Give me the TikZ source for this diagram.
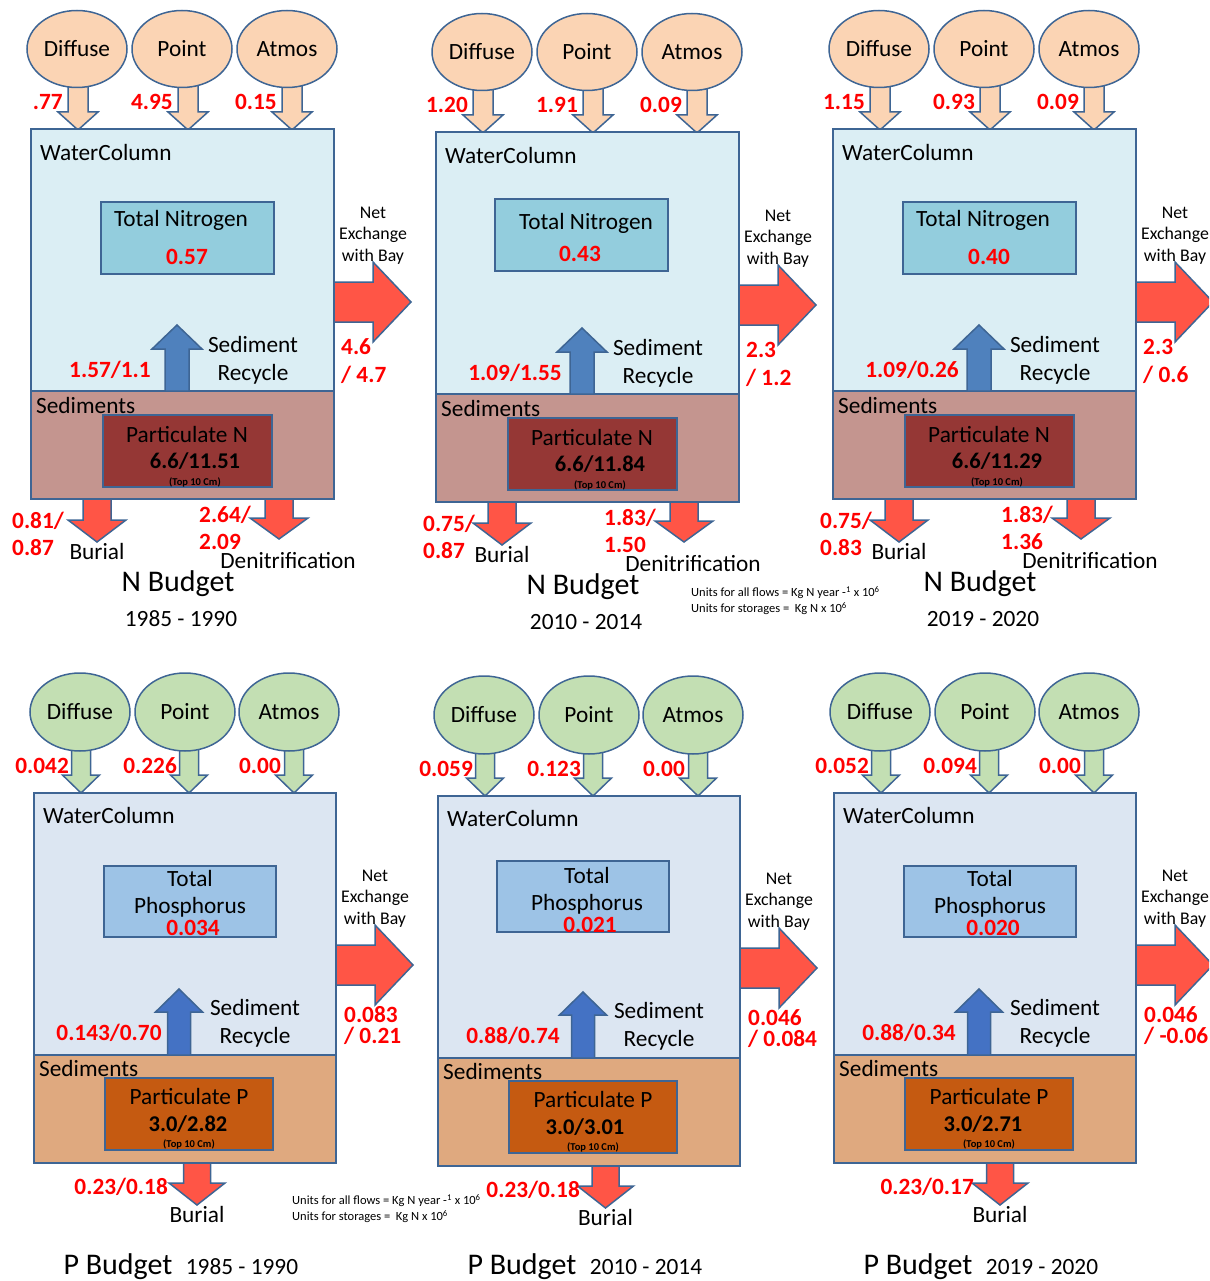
\documentclass[tikz,border=0pt]{standalone}
\usepackage{fontspec}
\setmainfont{Carlito}
\usetikzlibrary{shapes.geometric}
\definecolor{bord}{HTML}{3E6594}
\definecolor{peach}{HTML}{FBD4B4}
\definecolor{lgreen}{HTML}{C3DFB3}
\definecolor{redarrow}{HTML}{FF5546}
\definecolor{wcNc}{HTML}{DBEEF4}
\definecolor{wcPc}{HTML}{DCE6F2}
\definecolor{tnc}{HTML}{93CDDD}
\definecolor{tpc}{HTML}{9DC3E6}
\definecolor{sedNc}{HTML}{C4958F}
\definecolor{partNc}{HTML}{953735}
\definecolor{sedPc}{HTML}{DFA97F}
\definecolor{partPc}{HTML}{C55A11}
\definecolor{recNc}{HTML}{4F81BD}
\definecolor{recPc}{HTML}{4472C4}
\tikzset{
  bx/.style={draw=bord, line width=1.8pt, rectangle, inner sep=0},
  arr/.style={draw=bord, line width=1.5pt, line join=miter},
  inN/.style={arr, fill=peach},
  inP/.style={arr, fill=lgreen},
  redA/.style={arr, fill=redarrow},
  recN/.style={arr, fill=recNc},
  recP/.style={arr, fill=recPc},
  srcN/.style={ellipse, draw=bord, line width=1.5pt, fill=peach, minimum width=100, minimum height=77, inner sep=0, font=\fontsize{23.3}{27}\selectfont},
  srcP/.style={ellipse, draw=bord, line width=1.5pt, fill=lgreen, minimum width=100, minimum height=78, inner sep=0, font=\fontsize{23.3}{27}\selectfont},
  lab/.style={inner sep=0, anchor=mid, yshift=-5pt, font=\fontsize{23.3}{27}\selectfont},
  rlab/.style={inner sep=0, anchor=mid, yshift=-5pt, text=red, font=\fontsize{23.3}{27}\selectfont\bfseries},
  blab/.style={inner sep=0, anchor=mid, yshift=-5pt, font=\fontsize{22.5}{26}\selectfont\bfseries},
  sm/.style={inner sep=0, anchor=mid, yshift=-4.5pt, font=\fontsize{17.8}{21}\selectfont},
  tinylab/.style={inner sep=0, anchor=mid, yshift=-1pt, font=\fontsize{10.5}{12}\selectfont\bfseries},
  ttl/.style={inner sep=0, anchor=mid, yshift=-8pt, font=\fontsize{30}{34}\selectfont},
  units/.style={inner sep=0, anchor=north west, align=left, font=\fontsize{12.5}{16}\selectfont},
}
% style, x, ybase, yhead, ytip, shaft half width, head half width
\newcommand\dnarrow[7]{\draw[#1] ({#2-#6},#3) -- ({#2+#6},#3) -- ({#2+#6},#4) -- ({#2+#7},#4) -- (#2,#5) -- ({#2-#7},#4) -- ({#2-#6},#4) -- cycle;}
% style, y, xbase, xhead, xtip, shaft half width, head half width
\newcommand\rtarrow[7]{\draw[#1] (#3,{#2-#6}) -- (#4,{#2-#6}) -- (#4,{#2-#7}) -- (#5,#2) -- (#4,{#2+#7}) -- (#4,{#2+#6}) -- (#3,{#2+#6}) -- cycle;}

\newcommand\Npanel[3]{%
\begin{scope}[shift={(#1,#2)}]
\dnarrow{inN}{78}{80}{112}{130}{10}{20}
\dnarrow{inN}{188}{80}{112}{130}{10}{20}
\dnarrow{inN}{292}{80}{112}{130}{10}{20}
\node[srcN] (#3d) at (77,49) {Diffuse};
\node[srcN] (#3p) at (182,49) {Point};
\node[srcN] (#3a) at (287,49) {Atmos};
\node[bx, fill=wcNc, minimum width=303, minimum height=262] (#3wc) at (182.5,260) {};
\node[bx, fill=sedNc, minimum width=303, minimum height=108] (#3sd) at (182.5,445) {};
\node[bx, fill=tnc, minimum width=173, minimum height=72] (#3tn) at ({187.5+\tbdx},{238+\tbdy}) {};
\node[bx, fill=partNc, minimum width=169, minimum height=72] (#3pt) at (187.5,451) {};
\dnarrow{recN}{177}{391}{349}{325}{12}{25}
\rtarrow{redA}{302}{334}{373}{411}{20}{40}
\dnarrow{redA}{97}{499}{520}{542}{14}{29}
\dnarrow{redA}{279}{499}{518}{539}{14}{29}
\node[rlab, anchor=mid east] (#3vd) at (63,102) {\nvD};
\node[rlab, anchor=mid east] (#3vp) at (173,102) {\nvP};
\node[rlab, anchor=mid east] (#3va) at (277,102) {\nvA};
\node[lab, anchor=mid west] (#3wct) at (40,153) {WaterColumn};
\node[lab] (#3tnt) at (181,219) {Total Nitrogen};
\node[rlab] (#3tnv) at ({187+\tvdx},{257+\tvdy}) {\nvT};
\node[sm] (#3n1) at (373,212) {Net};
\node[sm] (#3n2) at (373,233) {Exchange};
\node[sm] (#3n3) at (373,255) {with Bay};
\node[rlab, anchor=mid west] (#3nv1) at (341,347) {\nvNa};
\node[rlab, anchor=mid west] (#3nv2) at (341,375) {\nvNb};
\node[lab] (#3r1) at (253,345) {Sediment};
\node[lab] (#3r2) at (253,373) {Recycle};
\node[rlab] (#3rv) at (110,370) {\nvR};
\node[lab, anchor=mid west] (#3sdt) at (36,406) {Sediments};
\node[lab] (#3pt1) at (187,435) {Particulate N};
\node[blab] (#3pt2) at (195,461) {\nvS};
\node[tinylab] (#3pt3) at (195,482) {(Top 10 Cm)};
\node[rlab, anchor=mid west] (#3b1) at (\nvBx,521) {\nvBa};
\node[rlab, anchor=mid west] (#3b2) at (\nvBx,548) {\nvBb};
\node[lab] (#3bt) at (97,552) {Burial};
\node[rlab, anchor=mid west] (#3d1) at (199,515) {\nvDa};
\node[rlab, anchor=mid west] (#3d2) at (199,542) {\nvDb};
\node[lab] (#3dt) at (288,561) {Denitrification};
\node[ttl] (#3ttl) at (178,581) {N Budget};
\node[lab] (#3yr) at (181,619) {\nvY};
\end{scope}}

\newcommand\Ppanel[3]{%
\begin{scope}[shift={(#1,#2)}]
\dnarrow{inP}{81}{745}{775}{793}{9.5}{18.5}
\dnarrow{inP}{189}{745}{775}{793}{9.5}{18.5}
\dnarrow{inP}{294}{745}{775}{793}{9.5}{18.5}
\node[srcP] (#3d) at (80,712) {Diffuse};
\node[srcP] (#3p) at (185,712) {Point};
\node[srcP] (#3a) at (289,712) {Atmos};
\node[bx, fill=wcPc, minimum width=302, minimum height=262] (#3wc) at (185,924) {};
\node[bx, fill=sedPc, minimum width=302, minimum height=108] (#3sd) at (185,1109) {};
\node[bx, fill=tpc, minimum width=172, minimum height=71] (#3tp) at ({190+\tbdx},{901.5+\tbdy}) {};
\node[bx, fill=partPc, minimum width=168, minimum height=72] (#3pt) at (189,1114) {};
\dnarrow{recP}{179}{1055}{1012}{989}{11.5}{23.5}
\rtarrow{redA}{965}{336}{375}{413}{20}{40}
\dnarrow{redA}{\pbx}{1163}{1183}{1205}{13.5}{28}
\node[rlab, anchor=mid east] (#3vd) at (69,766) {\pvD};
\node[rlab, anchor=mid east] (#3vp) at (177,766) {\pvP};
\node[rlab, anchor=mid east] (#3va) at (281,766) {\pvA};
\node[lab, anchor=mid west] (#3wct) at (43,816) {WaterColumn};
\node[lab] (#3tp1) at ({190+\ttdx},{879+\ttdy}) {Total};
\node[lab] (#3tp2) at ({190+\ttdx},{906+\ttdy}) {Phosphorus};
\node[rlab] (#3tpv) at ({193+\ttdx},{928+\ttdy}) {\pvT};
\node[sm] (#3n1) at (375,875) {Net};
\node[sm] (#3n2) at (375,896) {Exchange};
\node[sm] (#3n3) at (375,918) {with Bay};
\node[rlab, anchor=mid west] (#3nv1) at (344,1015) {\pvNa};
\node[rlab, anchor=mid west] (#3nv2) at (344,1036) {\pvNb};
\node[lab] (#3r1) at (255,1008) {Sediment};
\node[lab] (#3r2) at (255,1036) {Recycle};
\node[rlab] (#3rv) at (109,1033) {\pvR};
\node[lab, anchor=mid west] (#3sdt) at (39,1069) {Sediments};
\node[lab] (#3pt1) at (189,1097) {Particulate P};
\node[blab] (#3pt2) at (\psx,1124) {\pvS};
\node[tinylab] (#3pt3) at (189,1144) {(Top 10 Cm)};
\node[rlab, anchor=mid east] (#3b1) at (\pvBx,1187) {\pvB};
\node[lab] (#3bt) at (\pbx,1215) {Burial};
\node[ttl] (#3ttl) at (118,{1264+\ptdy}) {P Budget};
\node[lab] (#3yr) at (242,{1267+\ptdy}) {\pvY};
\end{scope}}

\begin{document}
\begin{tikzpicture}[x=1pt,y=-1pt]
\useasboundingbox (0,0) rectangle (1209,1281);
\clip (0,0) rectangle (1209,1281);
% N budgets
\def\tbdx{0}\def\tbdy{0}\def\tvdx{0}\def\tvdy{0}
\def\nvD{.77}\def\nvP{4.95}\def\nvA{0.15}\def\nvT{0.57}\def\nvNa{4.6}\def\nvNb{/ 4.7}\def\nvR{1.57/1.1}\def\nvS{6.6/11.51}\def\nvBx{12}\def\nvBa{0.81/}\def\nvBb{0.87}\def\nvDa{2.64/}\def\nvDb{2.09}\def\nvY{1985 - 1990}
\Npanel{0}{0}{na}
\def\tbdx{-11}\def\tbdy{-6}\def\tvdx{-12}\def\tvdy{-6}
\def\nvD{1.20}\def\nvP{1.91}\def\nvA{0.09}\def\nvT{0.43}\def\nvNa{2.3}\def\nvNb{/ 1.2}\def\nvR{1.09/1.55}\def\nvS{6.6/11.84}\def\nvBx{18}\def\nvBa{0.75/}\def\nvBb{0.87}\def\nvDa{1.83/}\def\nvDb{1.50}\def\nvY{2010 - 2014}
\Npanel{405}{3}{nb}
\def\tbdx{0}\def\tbdy{0}\def\tvdx{0}\def\tvdy{0}
\def\nvD{1.15}\def\nvP{0.93}\def\nvA{0.09}\def\nvT{0.40}\def\nvNa{2.3}\def\nvNb{/ 0.6}\def\nvR{1.09/0.26}\def\nvS{6.6/11.29}\def\nvBx{18}\def\nvBa{0.75/}\def\nvBb{0.83}\def\nvDa{1.83/}\def\nvDb{1.36}\def\nvY{2019 - 2020}
\Npanel{802}{0}{nc}
\node[units] (unitsN) at (691,586) {Units for all flows = Kg N year -\textsuperscript{1} x 10\textsuperscript{6}\\Units for storages = \ Kg N x 10\textsuperscript{6}};
% P budgets
\def\tbdx{0}\def\tbdy{0}\def\ttdx{0}\def\ttdy{0}\def\psx{188}\def\pbx{197}\def\ptdy{0}
\def\pvD{0.042}\def\pvP{0.226}\def\pvA{0.00}\def\pvT{0.034}\def\pvNa{0.083}\def\pvNb{/ 0.21}\def\pvR{0.143/0.70}\def\pvS{3.0/2.82}\def\pvBx{168}\def\pvB{0.23/0.18}\def\pvY{1985 - 1990}
\Ppanel{0}{0}{pa}
\def\tbdx{-11}\def\tbdy{-8}\def\ttdx{-7}\def\ttdy{-6}\def\psx{181}\def\pbx{201.5}\def\ptdy{-3}
\def\pvD{0.059}\def\pvP{0.123}\def\pvA{0.00}\def\pvT{0.021}\def\pvNa{0.046}\def\pvNb{/ 0.084}\def\pvR{0.88/0.74}\def\pvS{3.0/3.01}\def\pvBx{176}\def\pvB{0.23/0.18}\def\pvY{2010 - 2014}
\Ppanel{404}{3}{pb}
\def\tbdx{0}\def\tbdy{0}\def\ttdx{0}\def\ttdy{0}\def\psx{183}\def\pbx{200}\def\ptdy{0}
\def\pvD{0.052}\def\pvP{0.094}\def\pvA{0.00}\def\pvT{0.020}\def\pvNa{0.046}\def\pvNb{/ -0.06}\def\pvR{0.88/0.34}\def\pvS{3.0/2.71}\def\pvBx{174}\def\pvB{0.23/0.17}\def\pvY{2019 - 2020}
\Ppanel{800}{0}{pc}
\node[units] (unitsP) at (292,1194) {Units for all flows = Kg N year -\textsuperscript{1} x 10\textsuperscript{6}\\Units for storages = \ Kg N x 10\textsuperscript{6}};
\end{tikzpicture}
\end{document}
